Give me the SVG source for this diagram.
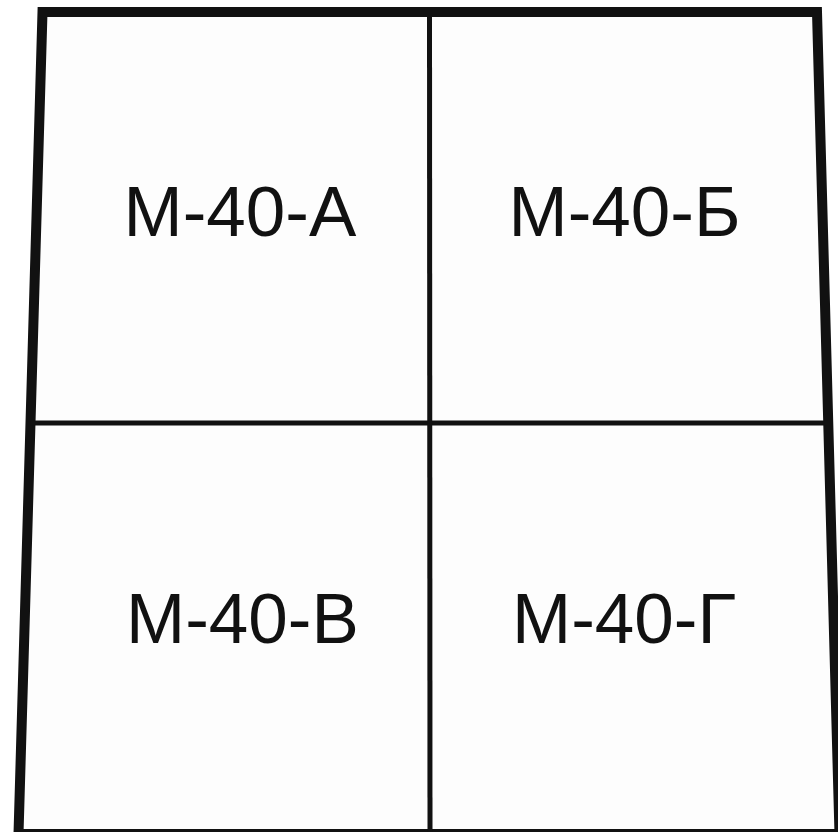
<svg xmlns="http://www.w3.org/2000/svg" width="838" height="832" viewBox="0 0 838 832">
<style>
.lbl{font-family:"Liberation Sans",Arial,sans-serif;font-size:71px;fill:#111}
.thin{stroke:#111;stroke-width:5;fill:none}
.frame{stroke:#111;stroke-width:10;fill:#fdfdfd;stroke-linejoin:miter}
</style>
<rect width="838" height="832" fill="#ffffff"/>
<polygon class="frame" points="42.5,12 817,12 839.5,834 18.5,834"/>
<g id="connectors">
<line class="thin" x1="30.5" y1="423" x2="828" y2="423"/>
<line class="thin" x1="429.5" y1="12" x2="430" y2="834"/>
</g>
<g id="sheet-a"><text class="lbl" x="123.5" y="236">М-40-А</text></g>
<g id="sheet-b"><text class="lbl" x="508.5" y="236">М-40-Б</text></g>
<g id="sheet-v"><text class="lbl" x="126" y="643">М-40-В</text></g>
<g id="sheet-g"><text class="lbl" x="512" y="643">М-40-Г</text></g>
</svg>
